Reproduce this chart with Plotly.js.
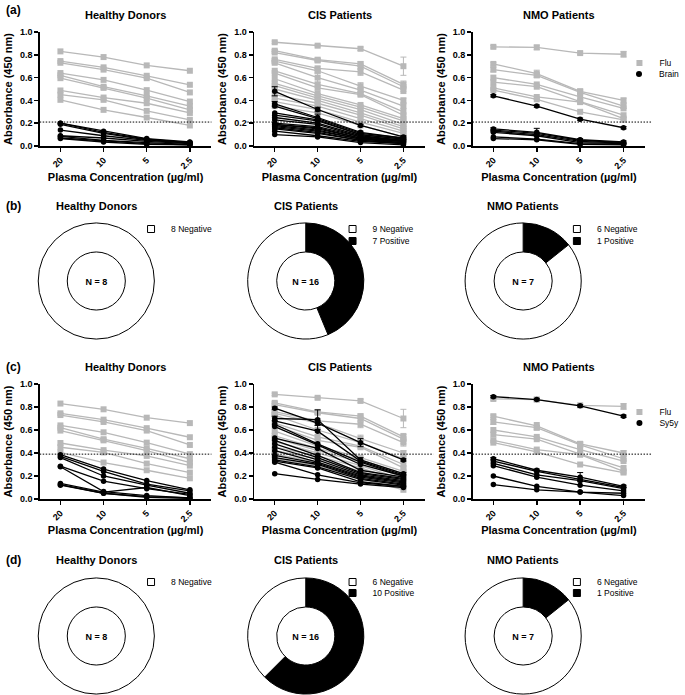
<!DOCTYPE html>
<html><head><meta charset="utf-8">
<script src="https://cdn.plot.ly/plotly-3.0.1.min.js"></script>
<style>html,body{margin:0;padding:0;background:#fff}#chart{width:685px;height:695px}</style>
</head><body><div id="chart"></div>
<script>
// ---------------- DATA ----------------
const concentrations = ['20', '10', '5', '2.5'];
const groupNames = ['Healthy Donors', 'CIS Patients', 'NMO Patients'];

const healthyFlu = [
  [0.83, 0.78, 0.707, 0.66],
  [0.745, 0.69, 0.616, 0.537],
  [0.73, 0.67, 0.595, 0.47],
  [0.64, 0.58, 0.49, 0.39],
  [0.62, 0.52, 0.44, 0.35],
  [0.595, 0.51, 0.42, 0.317],
  [0.487, 0.425, 0.375, 0.29],
  [0.45, 0.405, 0.308, 0.23],
  [0.405, 0.317, 0.25, 0.18]
];
const healthyBrain = [
  [0.20, 0.13, 0.065, 0.035],
  [0.20, 0.12, 0.06, 0.03],
  [0.19, 0.11, 0.055, 0.03],
  [0.14, 0.09, 0.05, 0.025],
  [0.09, 0.07, 0.04, 0.02],
  [0.085, 0.05, 0.03, 0.015],
  [0.07, 0.045, 0.02, 0.01],
  [0.065, 0.035, 0.015, 0.01]
];
const healthySy5y = [
  [0.385, 0.26, 0.16, 0.08],
  [0.37, 0.24, 0.13, 0.07],
  [0.36, 0.20, 0.12, 0.05],
  [0.285, 0.155, 0.09, 0.04],
  [0.28, 0.065, 0.03, 0.01],
  [0.135, 0.06, 0.10, 0.03],
  [0.125, 0.05, 0.02, 0.01],
  [0.12, 0.05, 0.015, 0.005]
];

const cisFlu = [
  [0.91, 0.88, 0.853, 0.70],
  [0.836, 0.757, 0.72, 0.54],
  [0.82, 0.75, 0.70, 0.52],
  [0.76, 0.68, 0.65, 0.49],
  [0.745, 0.66, 0.525, 0.40],
  [0.73, 0.60, 0.49, 0.35],
  [0.66, 0.54, 0.46, 0.30],
  [0.64, 0.51, 0.45, 0.27],
  [0.59, 0.46, 0.36, 0.24],
  [0.55, 0.44, 0.34, 0.22],
  [0.53, 0.42, 0.32, 0.19],
  [0.50, 0.40, 0.29, 0.17],
  [0.45, 0.375, 0.27, 0.15],
  [0.42, 0.35, 0.24, 0.13],
  [0.39, 0.32, 0.21, 0.11],
  [0.35, 0.29, 0.18, 0.08]
];
const cisFluErr = [
  [0.01, 0.01, 0.015, 0.08],
  [0.01, 0.01, 0.02, 0.03],
  [0.01, 0.01, 0.03, 0.04],
  [0.01, 0.02, 0.03, 0.03],
  [0.01, 0.02, 0.03, 0.02],
  [0.01, 0.04, 0.02, 0.02]
];
const cisBrain = [
  [0.48, 0.32, 0.18, 0.08],
  [0.37, 0.25, 0.12, 0.07],
  [0.35, 0.24, 0.11, 0.07],
  [0.29, 0.23, 0.10, 0.06],
  [0.27, 0.22, 0.10, 0.06],
  [0.25, 0.20, 0.09, 0.05],
  [0.23, 0.19, 0.08, 0.05],
  [0.20, 0.17, 0.08, 0.05],
  [0.19, 0.16, 0.07, 0.04],
  [0.19, 0.15, 0.07, 0.04],
  [0.18, 0.14, 0.06, 0.04],
  [0.17, 0.13, 0.06, 0.03],
  [0.16, 0.12, 0.05, 0.03],
  [0.15, 0.11, 0.05, 0.02],
  [0.13, 0.09, 0.04, 0.02],
  [0.10, 0.08, 0.03, 0.01]
];
const cisBrainErr = [
  [0.04, 0.02, 0.01, 0.01],
  [0.02, 0.03, 0.01, 0.01]
];
const cisSy5y = [
  [0.79, 0.66, 0.49, 0.34],
  [0.70, 0.69, 0.34, 0.22],
  [0.68, 0.59, 0.33, 0.21],
  [0.65, 0.48, 0.32, 0.20],
  [0.63, 0.47, 0.30, 0.20],
  [0.53, 0.44, 0.25, 0.19],
  [0.51, 0.38, 0.23, 0.18],
  [0.48, 0.36, 0.22, 0.17],
  [0.45, 0.34, 0.21, 0.16],
  [0.42, 0.32, 0.20, 0.15],
  [0.38, 0.31, 0.19, 0.14],
  [0.36, 0.30, 0.18, 0.13],
  [0.34, 0.28, 0.17, 0.12],
  [0.33, 0.27, 0.15, 0.11],
  [0.32, 0.21, 0.14, 0.11],
  [0.22, 0.17, 0.13, 0.10]
];
const cisSy5yErr = [
  [0.01, 0.02, 0.035, 0.01],
  [0.02, 0.085, 0.02, 0.01]
];

const nmoFlu = [
  [0.87, 0.865, 0.815, 0.805],
  [0.72, 0.635, 0.48, 0.40],
  [0.67, 0.62, 0.47, 0.35],
  [0.60, 0.54, 0.43, 0.33],
  [0.56, 0.52, 0.39, 0.27],
  [0.51, 0.43, 0.385, 0.24],
  [0.49, 0.41, 0.30, 0.23]
];
const nmoFluErr = [
  [0.01, 0.02, 0.01, 0.025],
  [0.01, 0.03, 0.02, 0.02],
  [0.02, 0.02, 0.02, 0.02]
];
const nmoBrain = [
  [0.44, 0.35, 0.235, 0.16],
  [0.15, 0.12, 0.055, 0.035],
  [0.14, 0.11, 0.05, 0.03],
  [0.13, 0.10, 0.04, 0.025],
  [0.12, 0.09, 0.03, 0.02],
  [0.08, 0.06, 0.02, 0.015],
  [0.065, 0.055, 0.015, 0.01]
];
const nmoBrainErr = [
  [0.01, 0.01, 0.01, 0.01],
  [0.01, 0.035, 0.01, 0.01]
];
const nmoSy5y = [
  [0.89, 0.865, 0.81, 0.72],
  [0.35, 0.25, 0.19, 0.11],
  [0.33, 0.24, 0.17, 0.10],
  [0.31, 0.21, 0.16, 0.09],
  [0.29, 0.19, 0.12, 0.07],
  [0.20, 0.11, 0.06, 0.05],
  [0.125, 0.08, 0.06, 0.03]
];
const nmoSy5yErr = [
  [0.01, 0.01, 0.01, 0.01],
  [0.01, 0.01, 0.04, 0.01]
];

const brainCutoff = 0.21;
const sy5yCutoff = 0.39;

const brainNegative = [8, 9, 6];
const brainPositive = [0, 7, 1];
const sy5yNegative = [8, 6, 6];
const sy5yPositive = [0, 10, 1];

const panelLabels = ['(a)', '(b)', '(c)', '(d)'];

// ---------------- STYLE / LAYOUT ----------------
const W = 685, H = 695;
const fx = p => p / W;
const fy = p => 1 - p / H;
const GRAY = '#b8b8b8';
const BLACK = '#000000';
const FONT = 'Liberation Sans, Arial, sans-serif';

const lineCols = [[40, 213], [256, 428], [476, 650]];
const lineRows = [[32, 146], [384, 499]];
const cutoffSpan = [[0, 1], [-0.04, 1.05], [0, 1.04]];
const lineTitleY = [15, 367];
const panelLabelY = [10, 206, 367, 560];

const donutCX = [97, 308, 527];
const donutCY = [281, 636];
const donutR = 58.5;
const donutTitleY = [206, 560];
const donutLegendTextX = [172, 375, 601];
const donutLegendY = [[229, 241], [582, 593]];

const lineLegendTextX = 664;
const lineLegendY = [[63, 74], [412, 423]];

const traces = [];
const layout = {
  width: W, height: H,
  margin: {l: 0, r: 0, t: 0, b: 0},
  paper_bgcolor: '#fff', plot_bgcolor: 'rgba(0,0,0,0)',
  font: {family: FONT, color: BLACK},
  showlegend: true,
  shapes: [], annotations: []
};

let legendCount = 0;
function newLegend(textX, yPix) {
  legendCount += 1;
  const id = legendCount === 1 ? 'legend' : 'legend' + legendCount;
  layout[id] = {
    x: fx(textX - 40), y: fy(yPix), xanchor: 'left', yanchor: 'middle',
    bgcolor: 'rgba(0,0,0,0)', borderwidth: 0,
    font: {size: 8.5, color: BLACK, family: FONT},
    itemclick: false, itemdoubleclick: false
  };
  return id;
}

function addLinePanel(row, col, flu, fluErr, ant, antErr, antName, cutoff) {
  const n = row * 3 + col + 1;
  const xid = n === 1 ? 'x' : 'x' + n;
  const yid = n === 1 ? 'y' : 'y' + n;
  const xkey = n === 1 ? 'xaxis' : 'xaxis' + n;
  const ykey = n === 1 ? 'yaxis' : 'yaxis' + n;

  function series(list, errs, color, symbol, size) {
    list.forEach((s, i) => {
      const t = {
        type: 'scatter', mode: 'lines+markers', x: concentrations, y: s,
        xaxis: xid, yaxis: yid, showlegend: false, cliponaxis: false,
        line: {color: color, width: 1.3},
        marker: {symbol: symbol, size: size, color: color},
        hoverinfo: 'x+y'
      };
      if (errs && errs[i]) {
        t.error_y = {type: 'data', array: errs[i], visible: true, color: color, thickness: 1, width: 3};
      }
      traces.push(t);
    });
  }
  series(flu, fluErr, GRAY, 'square', 6);
  series(ant, antErr, BLACK, 'circle', 5.5);

  layout[xkey] = {
    domain: [fx(lineCols[col][0]), fx(lineCols[col][1])], anchor: yid,
    type: 'category', categoryorder: 'array', categoryarray: concentrations,
    range: [-0.48, 3.5], showline: true, linecolor: BLACK, linewidth: 1.5,
    ticks: 'outside', ticklen: 4, tickwidth: 1.5, tickcolor: BLACK, tickangle: -45,
    tickfont: {size: 9, weight: 'bold', color: BLACK},
    showgrid: false, zeroline: false, fixedrange: true,
    title: {text: 'Plasma Concentration (µg/ml)', font: {size: 11, weight: 'bold', color: BLACK}, standoff: 3}
  };
  layout[ykey] = {
    domain: [fy(lineRows[row][1]), fy(lineRows[row][0])], anchor: xid,
    range: [0, 1], dtick: 0.2, tick0: 0, tickformat: '.1f',
    showline: true, linecolor: BLACK, linewidth: 1.5,
    ticks: 'outside', ticklen: 4, tickwidth: 1.5, tickcolor: BLACK,
    tickfont: {size: 9, weight: 'bold', color: BLACK},
    showgrid: false, zeroline: false, fixedrange: true,
    title: {text: 'Absorbance (450 nm)', font: {size: 11, weight: 'bold', color: BLACK}, standoff: 5}
  };
  layout.shapes.push({
    type: 'line', xref: xid + ' domain', x0: cutoffSpan[col][0], x1: cutoffSpan[col][1],
    yref: yid, y0: cutoff, y1: cutoff,
    line: {color: BLACK, width: 1, dash: '1.5px,1.5px'}
  });
  layout.annotations.push({
    xref: xid + ' domain', x: 0.5, yref: 'paper', y: fy(lineTitleY[row]),
    text: groupNames[col], showarrow: false, xanchor: 'center', yanchor: 'middle',
    font: {size: 11, weight: 'bold', color: BLACK}
  });

  if (col === 2) {
    const lg1 = newLegend(lineLegendTextX, lineLegendY[row][0]);
    traces.push({type: 'scatter', mode: 'markers', x: [null], y: [null], xaxis: xid, yaxis: yid,
      name: 'Flu', legend: lg1, marker: {symbol: 'square', size: 6, color: GRAY}});
    const lg2 = newLegend(lineLegendTextX, lineLegendY[row][1]);
    traces.push({type: 'scatter', mode: 'markers', x: [null], y: [null], xaxis: xid, yaxis: yid,
      name: antName, legend: lg2, marker: {symbol: 'circle', size: 6, color: BLACK}});
  }
}

function addDonutRow(row, negatives, positives) {
  for (let col = 0; col < 3; col++) {
    const cx = donutCX[col], cy = donutCY[row];
    const vals = [], labs = [], cols = [];
    if (positives[col] > 0) { vals.push(positives[col]); labs.push(positives[col] + ' Positive'); cols.push(BLACK); }
    if (negatives[col] > 0) { vals.push(negatives[col]); labs.push(negatives[col] + ' Negative'); cols.push('#ffffff'); }
    const total = negatives[col] + positives[col];
    traces.push({
      type: 'pie', values: vals, labels: labs, sort: false, direction: 'clockwise', rotation: 0,
      hole: 0.5, textinfo: 'none', showlegend: false,
      marker: {colors: cols, line: {color: BLACK, width: 1}},
      domain: {x: [fx(cx - donutR), fx(cx + donutR)], y: [fy(cy + donutR), fy(cy - donutR)]},
      title: {text: 'N = ' + total, position: 'middle center', font: {size: 9, weight: 'bold', color: BLACK}}
    });
    layout.annotations.push({
      xref: 'paper', x: fx(cx), yref: 'paper', y: fy(donutTitleY[row]),
      text: groupNames[col], showarrow: false, xanchor: 'center', yanchor: 'middle',
      font: {size: 11, weight: 'bold', color: BLACK}
    });
    const entries = [];
    if (negatives[col] > 0) entries.push({name: negatives[col] + ' Negative', color: '#ffffff'});
    if (positives[col] > 0) entries.push({name: positives[col] + ' Positive', color: BLACK});
    entries.forEach((e, k) => {
      const lg = newLegend(donutLegendTextX[col], donutLegendY[row][k]);
      traces.push({type: 'scatter', mode: 'markers', x: [null], y: [null], xaxis: 'x', yaxis: 'y',
        name: e.name, legend: lg,
        marker: {symbol: 'square', size: 7, color: e.color, line: {color: BLACK, width: 1}}});
    });
  }
}

addLinePanel(0, 0, healthyFlu, null, healthyBrain, null, 'Brain', brainCutoff);
addLinePanel(0, 1, cisFlu, cisFluErr, cisBrain, cisBrainErr, 'Brain', brainCutoff);
addLinePanel(0, 2, nmoFlu, nmoFluErr, nmoBrain, nmoBrainErr, 'Brain', brainCutoff);
addDonutRow(0, brainNegative, brainPositive);
addLinePanel(1, 0, healthyFlu, null, healthySy5y, null, 'Sy5y', sy5yCutoff);
addLinePanel(1, 1, cisFlu, cisFluErr, cisSy5y, cisSy5yErr, 'Sy5y', sy5yCutoff);
addLinePanel(1, 2, nmoFlu, nmoFluErr, nmoSy5y, nmoSy5yErr, 'Sy5y', sy5yCutoff);
addDonutRow(1, sy5yNegative, sy5yPositive);

panelLabels.forEach((t, i) => {
  layout.annotations.push({
    xref: 'paper', x: fx(4), yref: 'paper', y: fy(panelLabelY[i]),
    text: t, showarrow: false, xanchor: 'left', yanchor: 'middle',
    font: {size: 12, weight: 'bold', color: BLACK}
  });
});

Plotly.newPlot('chart', traces, layout, {displayModeBar: false, staticPlot: true});
</script>
</body></html>
